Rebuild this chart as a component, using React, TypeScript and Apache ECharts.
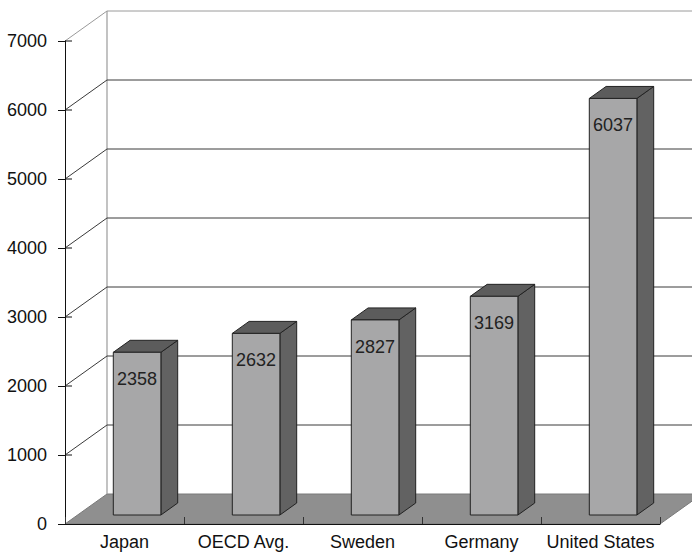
import React, { useEffect, useRef } from "react";
import * as echarts from "echarts";

const categories = ["Japan", "OECD Avg.", "Sweden", "Germany", "United States"];
const values = [2358, 2632, 2827, 3169, 6037];
const yTicks = [0, 1000, 2000, 3000, 4000, 5000, 6000, 7000];

const DX = 42;
const DY = -30;
const FONT = "'Liberation Sans', Arial, Helvetica, sans-serif";
const FS = 18;

export default function App() {
  const ref = useRef<HTMLDivElement>(null);
  useEffect(() => {
    document.body.style.margin = "0";
    const chart = echarts.init(ref.current!, null, { renderer: "svg" });
    const yMax = yTicks[yTicks.length - 1];
    chart.setOption({
      animation: false,
      backgroundColor: "#ffffff",
      grid: { left: 65, right: 32, top: 41, bottom: 29 },
      xAxis: {
        type: "category",
        data: categories,
        boundaryGap: true,
        axisLine: { show: true, lineStyle: { color: "#111", width: 1 } },
        axisTick: { show: true, inside: true, length: 7, interval: 0, lineStyle: { color: "#333" } },
        axisLabel: { color: "#111", fontSize: FS, fontFamily: FONT, margin: 9, interval: 0, hideOverlap: false },
        splitLine: { show: false },
        z: 5,
      },
      yAxis: {
        type: "value",
        min: 0,
        max: yMax,
        interval: 1000,
        axisLine: { show: true, lineStyle: { color: "#111", width: 1 } },
        axisTick: { show: true, length: 7, lineStyle: { color: "#111" } },
        axisLabel: {
          color: "#111",
          fontSize: FS,
          fontFamily: FONT,
          margin: 18,
          formatter: (v: number) => String(v),
        },
        splitLine: { show: false },
        z: 5,
      },
      series: [
        {
          type: "custom",
          clip: false,
          z: 1,
          silent: true,
          encode: { x: 0, y: 1 },
          data: yTicks.map((v) => [0, v]),
          renderItem: (params: any, api: any) => {
            const cs = params.coordSys;
            const v = api.value(1);
            const y = api.coord([0, v])[1];
            const left = cs.x;
            const right = cs.x + cs.width;
            if (v === 0) {
              const yTop = api.coord([0, yMax])[1];
              return {
                type: "group",
                children: [
                  {
                    type: "polygon",
                    shape: { points: [[left, y], [right, y], [right + DX, y + DY], [left + DX, y + DY]] },
                    style: { fill: "#8f8f8f", stroke: "#7a7a7a", lineWidth: 1 },
                  },
                  {
                    type: "line",
                    shape: { x1: left + DX, y1: y + DY, x2: left + DX, y2: yTop + DY },
                    style: { stroke: "#9a9a9a", lineWidth: 1.2 },
                  },
                ],
              };
            }
            const isTop = v === yMax;
            const col = isTop ? "#9a9a9a" : "#3a3a3a";
            return {
              type: "group",
              children: [
                {
                  type: "line",
                  shape: { x1: left, y1: y, x2: left + DX, y2: y + DY },
                  style: { stroke: col, lineWidth: 1 },
                },
                {
                  type: "line",
                  shape: { x1: left + DX, y1: y + DY, x2: right + DX, y2: y + DY },
                  style: { stroke: col, lineWidth: 1 },
                },
                {
                  type: "line",
                  shape: { x1: left, y1: y, x2: left + 7, y2: y },
                  style: { stroke: "#111", lineWidth: 1 },
                },
              ],
            };
          },
        },
        {
          type: "custom",
          clip: false,
          z: 3,
          encode: { x: 0, y: 1 },
          data: values.map((v, i) => [i, v]),
          renderItem: (params: any, api: any) => {
            const idx = api.value(0);
            const v = api.value(1);
            const base = api.coord([idx, 0]);
            const top = api.coord([idx, v]);
            const band = api.size([1, 0])[0];
            const w = band * 0.4;
            const x0 = base[0] - w / 2 + DX * 0.3;
            const x1 = x0 + w;
            const yb = base[1] + DY * 0.3;
            const yt = top[1] + DY * 0.3;
            const ddx = DX * 0.4;
            const ddy = DY * 0.4;
            const edge = { stroke: "#222", lineWidth: 1 };
            return {
              type: "group",
              children: [
                {
                  type: "polygon",
                  shape: { points: [[x1, yb], [x1 + ddx, yb + ddy], [x1 + ddx, yt + ddy], [x1, yt]] },
                  style: { fill: "#626262", ...edge },
                },
                {
                  type: "polygon",
                  shape: { points: [[x0, yt], [x1, yt], [x1 + ddx, yt + ddy], [x0 + ddx, yt + ddy]] },
                  style: { fill: "#5c5c5c", ...edge },
                },
                {
                  type: "rect",
                  shape: { x: x0, y: yt, width: w, height: yb - yt },
                  style: { fill: "#a7a7a8", ...edge },
                },
                {
                  type: "text",
                  x: (x0 + x1) / 2,
                  y: yt + 27,
                  style: {
                    text: String(v),
                    fill: "#222",
                    font: `${FS}px ${FONT}`,
                    align: "center",
                    verticalAlign: "middle",
                  },
                },
              ],
            };
          },
        },
      ],
    });
    return () => chart.dispose();
  }, []);
  return <div ref={ref} style={{ width: 692, height: 553 }} />;
}
